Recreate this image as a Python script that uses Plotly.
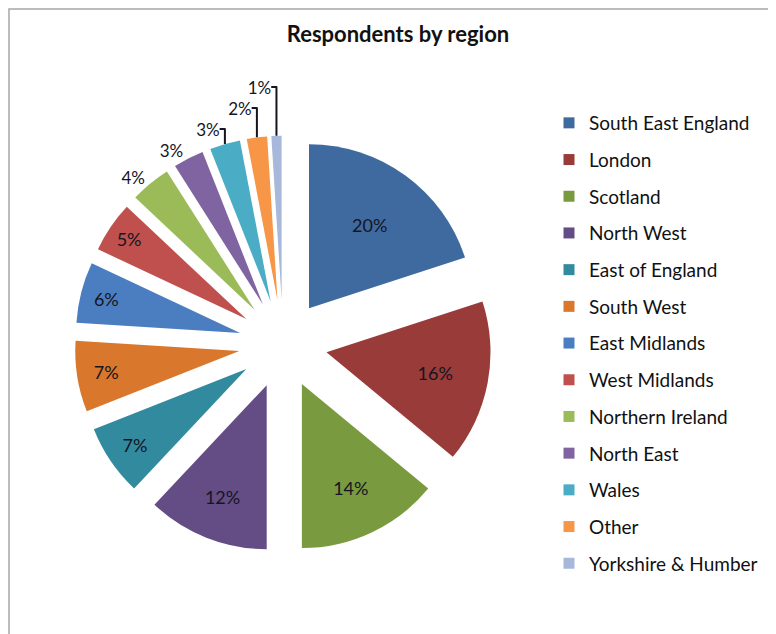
import plotly.graph_objects as go

regions = ["South East England", "London", "Scotland", "North West", "East of England",
           "South West", "East Midlands", "West Midlands", "Northern Ireland",
           "North East", "Wales", "Other", "Yorkshire & Humber"]
shares = [20, 16, 14, 12, 7, 7, 6, 5, 4, 3, 3, 2, 1]
colors = ["#3F6A9F", "#983B39", "#799A3F", "#644C85", "#328A9F", "#D9772C",
          "#4A7EC0", "#C0504D", "#9BBB59", "#8064A2", "#4BACC6", "#F79646", "#A7B8DB"]

# page body has an 8px margin, so lay out in page coordinates minus that offset
O = 8
W, H = 776 - O, 634 - O
cx, cy, rad, pull = 283 - O, 344 - O, 164, 0.27
half = rad * (1 + pull)

fig = go.Figure()
fig.add_trace(go.Pie(
    labels=regions, values=shares, sort=False, direction="clockwise", rotation=0,
    marker=dict(colors=colors, line=dict(width=0)),
    pull=[pull] * len(shares),
    texttemplate="%{value}%",
    textposition=["inside"] * 8 + ["outside"] * 5,
    insidetextorientation="horizontal",
    textfont=dict(family="Lato", size=18, color="#15151f"),
    outsidetextfont=dict(family="Lato", size=17, color="#15151f"),
    showlegend=False, hoverinfo="label+percent",
    domain=dict(x=[(cx - half) / W, (cx + half) / W],
                y=[(H - cy - half) / H, (H - cy + half) / H]),
))

for name, col in zip(regions, colors):
    fig.add_trace(go.Scatter(x=[None], y=[None], mode="markers", name=name,
                             legendgroup=name,
                             marker=dict(symbol="square", size=11, color=col)))

fig.update_layout(
    width=W, height=H, autosize=False,
    margin=dict(l=0, r=0, t=0, b=0, pad=0, autoexpand=False),
    paper_bgcolor="white", plot_bgcolor="white",
    xaxis=dict(visible=False), yaxis=dict(visible=False),
    title=dict(text="<b>Respondents by region</b>", x=(398 - O) / W, xanchor="center",
               y=1 - (34 - O) / H, yanchor="middle",
               font=dict(family="Lato", size=22, color="#111111")),
    legend=dict(x=(549 - O) / W, xanchor="left", y=1 - (104 - O) / H, yanchor="top",
                font=dict(family="Lato", size=19, color="#111111"),
                tracegroupgap=9, itemclick=False, bgcolor="rgba(0,0,0,0)"),
    shapes=[dict(type="rect", xref="paper", yref="paper",
                 x0=1 / W, x1=1.02, y0=-0.02, y1=1 - 1 / H,
                 line=dict(color="#A6A6A6", width=1.5))],
)

fig.write_html("out.html")
